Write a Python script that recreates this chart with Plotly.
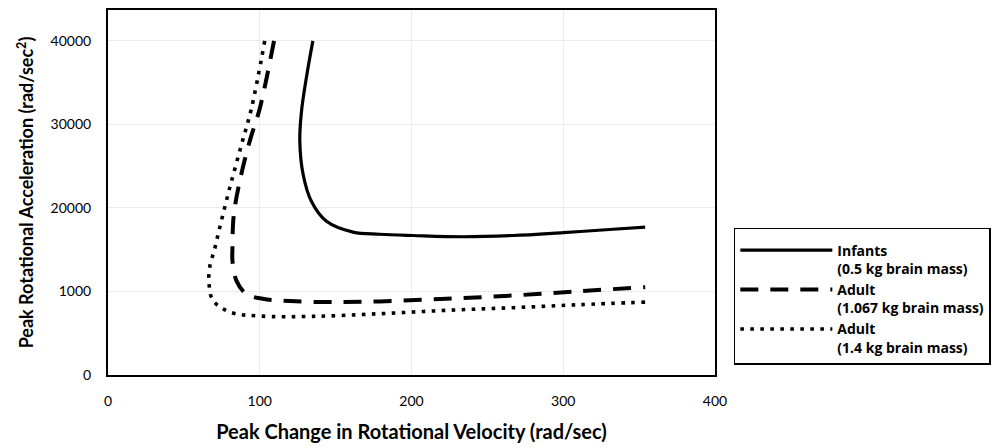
import plotly.graph_objects as go

# Peak change in rotational velocity (rad/sec) vs peak rotational acceleration (rad/sec^2)
infant_x = [135, 131, 127.5, 126.4, 128.6, 134, 144, 161.5, 179, 201, 234, 267, 300, 333, 354]
infant_y = [40000, 35900, 31550, 28000, 24000, 20800, 18400, 17100, 16850, 16700, 16550, 16700, 17050, 17450, 17700]

adult1_x = [109.4, 100, 93.4, 86.8, 82.8, 82.0, 82.0, 84.6, 91.2, 102, 119.8, 146, 179, 223, 267, 311, 354]
adult1_y = [40000, 31900, 28000, 23200, 19000, 15100, 13700, 11300, 9700, 9130, 8850, 8730, 8810, 9130, 9520, 10040, 10510]

adult2_x = [103.3, 94.5, 88, 80.2, 73.6, 70.3, 67, 66.6, 69.2, 80.2, 100, 135, 179, 223, 267, 311, 354]
adult2_y = [40000, 31900, 27600, 22400, 17650, 15100, 12900, 10900, 8930, 7540, 7060, 7020, 7340, 7740, 8060, 8420, 8730]

names = ["<b>Infants<br>(0.5 kg brain mass)</b>",
         "<b>Adult<br>(1.067 kg brain mass)</b>",
         "<b>Adult<br>(1.4 kg brain mass)</b>"]

x_ticks = [0, 100, 200, 300, 400]
x_tick_text = ["0", "100", "200", "300", "400"]
y_ticks = [0, 10000, 20000, 30000, 40000]
y_tick_text = ["0", "1000", "20000", "30000", "40000"]

FONT = "Lato, 'Open Sans', sans-serif"
LEG_FONT = "'Open Sans', Lato, sans-serif"

fig = go.Figure()
fig.add_trace(go.Scatter(x=infant_x, y=infant_y, mode="lines", name=names[0],
                         line=dict(color="black", width=3.2, shape="spline"), legendgroup="a"))
fig.add_trace(go.Scatter(x=adult1_x, y=adult1_y, mode="lines", name=names[1],
                         line=dict(color="black", width=4, dash="18px,12px", shape="spline"), legendgroup="b"))
fig.add_trace(go.Scatter(x=adult2_x, y=adult2_y, mode="lines", name=names[2],
                         line=dict(color="black", width=3.6, dash="3.6px,6.4px", shape="spline"), legendgroup="c"))

fig.update_layout(
    width=1006, height=448,
    margin=dict(l=108, r=291, t=8, b=73),
    paper_bgcolor="white", plot_bgcolor="white",
    font=dict(family=FONT, size=14, color="black"),
    showlegend=True,
    legend=dict(x=1.031, xanchor="left", y=0.403, yanchor="top",
                bordercolor="black", borderwidth=1.5, bgcolor="white",
                font=dict(family=LEG_FONT, size=14, color="black"),
                title=dict(text=" ", font=dict(size=4)),
                tracegroupgap=8, itemwidth=92, valign="top",
                traceorder="normal"),
    xaxis=dict(range=[0, 400], tickvals=x_ticks, ticktext=x_tick_text,
               showline=True, linecolor="black", linewidth=2, mirror=True,
               showgrid=True, gridcolor="#ebebeb", gridwidth=1, zeroline=False,
               ticks="", ticklabelstandoff=12,
               tickfont=dict(family=FONT, size=14),
               title=dict(text="<b>Peak Change in Rotational Velocity (rad/sec)</b>",
                          font=dict(family=FONT, size=20), standoff=17)),
    yaxis=dict(range=[0, 43700], tickvals=y_ticks, ticktext=y_tick_text,
               showline=True, linecolor="black", linewidth=2, mirror=True,
               showgrid=True, gridcolor="#ebebeb", gridwidth=1, zeroline=False,
               ticks="", ticklabelstandoff=12,
               tickfont=dict(family=FONT, size=14),
               title=dict(text="<b>Peak Rotational Acceleration (rad/sec<sup>2</sup>)</b>",
                          font=dict(family=FONT, size=18), standoff=12)),
)

fig.write_html("out.html")
